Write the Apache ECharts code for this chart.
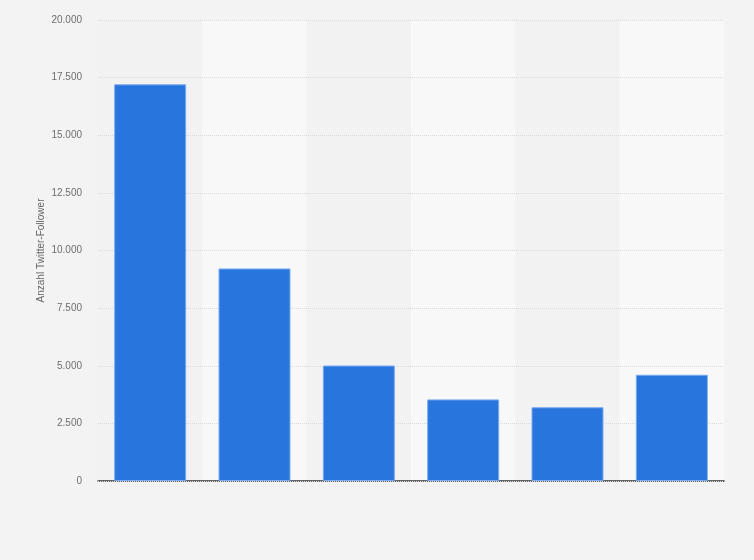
<!DOCTYPE html>
<html>
<head>
<meta charset="utf-8">
<script src="https://cdn.jsdelivr.net/npm/echarts@6/dist/echarts.min.js"></script>
<style>
html,body{margin:0;padding:0;background:#f3f3f3;}
#chart{width:754px;height:560px;}
</style>
</head>
<body>
<div id="chart"></div>
<script>
const categories = ['1', '2', '3', '4', '5', '6'];
const followers = [17210, 9220, 5010, 3540, 3200, 4610];
const yTicks = { min: 0, max: 20000, interval: 2500 };
const yAxisName = 'Anzahl Twitter-Follower';

const chart = echarts.init(document.getElementById('chart'));
const fmt = v => v === 0 ? '0' : String(v).replace(/\B(?=(\d{3})+(?!\d))/g, '.');
chart.setOption({
  backgroundColor: '#f3f3f3',
  textStyle: { fontFamily: 'Liberation Sans, Arial, sans-serif' },
  grid: { left: 98, right: 30, top: 20, bottom: 79 },
  xAxis: {
    type: 'category',
    data: categories,
    z: 0,
    axisLine: { lineStyle: { color: '#333', width: 1.5 } },
    axisTick: { show: false },
    axisLabel: { show: false },
    splitArea: { show: true, areaStyle: { color: ['#f2f2f2', '#f8f8f8'] } }
  },
  yAxis: {
    type: 'value',
    z: 1,
    min: yTicks.min, max: yTicks.max, interval: yTicks.interval,
    name: yAxisName,
    nameLocation: 'middle',
    nameGap: 52,
    nameMoveOverlap: false,
    nameTextStyle: { color: '#666', fontSize: 10 },
    axisLine: { show: false },
    axisTick: { show: false },
    axisLabel: { color: '#6e6e6e', fontSize: 10, margin: 16, formatter: fmt },
    splitLine: { lineStyle: { color: '#dadada', type: 'dotted', width: 1 } }
  },
  series: [{
    type: 'bar',
    data: followers,
    z: 2,
    barCategoryGap: '31%',
    itemStyle: { color: '#2876dd', borderColor: '#7aaaf0', borderWidth: 1 },
    silent: true
  }],
  animation: false
});
</script>
</body>
</html>
